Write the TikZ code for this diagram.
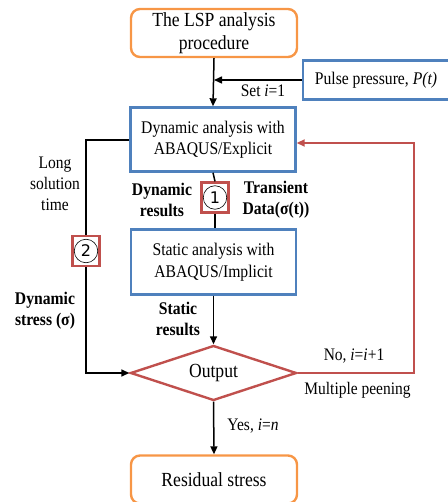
\documentclass[tikz,border=0pt]{standalone}
\usepackage{fontspec}
\setmainfont[FakeStretch=0.88]{Liberation Serif}
\setsansfont{DejaVu Sans}
\usetikzlibrary{shapes.geometric,arrows.meta,calc}
\definecolor{orangeb}{RGB}{247,150,70}
\definecolor{blueb}{RGB}{79,129,189}
\definecolor{redb}{RGB}{192,80,77}
\tikzset{
  every node/.style={font=\fontsize{18}{21}\selectfont, inner sep=0pt},
  termbox/.style={draw=orangeb, line width=2.4pt, rounded corners=9pt, align=center, minimum width=166pt, font=\fontsize{20}{23}\selectfont},
  procbox/.style={draw=blueb, line width=2.4pt, align=center, font=\fontsize{17.8}{21.5}\selectfont},
  numbox/.style={draw=redb, line width=2.2pt, fill=white, minimum width=27pt, minimum height=30pt},
  numcirc/.style={circle, draw=black, line width=0.6pt, minimum size=23.5pt, font=\sffamily\fontsize{16}{16}\selectfont},
  decide/.style={diamond, draw=redb, line width=2.4pt, shape aspect=3, minimum width=166pt, minimum height=55pt, font=\fontsize{20}{23}\selectfont},
  lbl/.style={align=center, font=\fontsize{17.6}{21}\selectfont},
  blbl/.style={align=center, font=\bfseries\fontsize{17.8}{21}\selectfont},
  conn/.style={line width=1.5pt, -{Triangle[length=8pt,width=7pt]}},
  connplain/.style={line width=1.5pt},
  loopconn/.style={draw=redb, line width=1.8pt, -{Triangle[length=8pt,width=7pt]}},
}
\begin{document}
\begin{tikzpicture}[x=1pt,y=-1pt]
\useasboundingbox (0,0) rectangle (447,502);
% nodes
\node[termbox, minimum height=48pt] (lsp) at (214,33) {The LSP analysis\\procedure};
\node[procbox, minimum width=146pt, minimum height=39pt] (pulse) at (376,80) {Pulse pressure, \textit{P(t)}};
\node[procbox, minimum width=165pt, minimum height=64pt] (dyn) at (213,139.5) {Dynamic analysis with\\ABAQUS/Explicit};
\node[procbox, minimum width=165pt, minimum height=65pt] (stat) at (213.5,262) {Static analysis with\\ABAQUS/Implicit};
\node[decide] (out) at (213.5,373) {Output};
\node[termbox, minimum height=48pt] (res) at (214,479.5) {Residual stress};
\node[numbox] (b1) at (215,197.5) {};
\node[numcirc] (c1) at (b1) {1};
\node[numbox] (b2) at (86,251) {};
\node[numcirc] (c2) at (b2) {2};
\coordinate (pj) at (lsp.south |- pulse.west);
\coordinate (lt) at (86,140);
\coordinate (lb) at (86,373);
\coordinate (rb) at (414,373);
\coordinate (rt) at (414,143);
% connectors
\draw[conn] (lsp.south) -- (dyn.north);
\draw[conn] (pulse.west) -- (pj);
\draw[connplain] (dyn.south) -- (b1.north);
\draw[connplain] (b1.south) -- (b1.south |- stat.north);
\draw[conn] (stat.south) -- (out.north);
\draw[connplain] (dyn.west |- lt) -- (lt) -- (b2.north);
\draw[conn] (b2.south) -- (lb) -- (out.west);
\draw[loopconn] (out.east) -- (rb) -- (rt) -- (dyn.east |- rt);
\draw[conn] (out.south) -- (res.north);
% labels
\node[lbl] (seti) at (263,91) {Set \textit{i}=1};
\node[blbl] (dynres) at (162,199.5) {Dynamic\\results};
\node[blbl] (trans) at (276,199.5) {Transient\\Data(σ(t))};
\node[lbl] (longt) at (55,184) {Long\\solution\\time};
\node[blbl] (dstress) at (45,310.5) {Dynamic\\stress (σ)};
\node[blbl] (statres) at (178,318.5) {Static\\results};
\node[lbl] (noi) at (354,356) {No, \textit{i}=\textit{i}+1};
\node[lbl] (mult) at (357.5,390) {Multiple peening};
\node[lbl] (yes) at (253,426) {Yes, \textit{i}=\textit{n}};
\end{tikzpicture}
\end{document}
